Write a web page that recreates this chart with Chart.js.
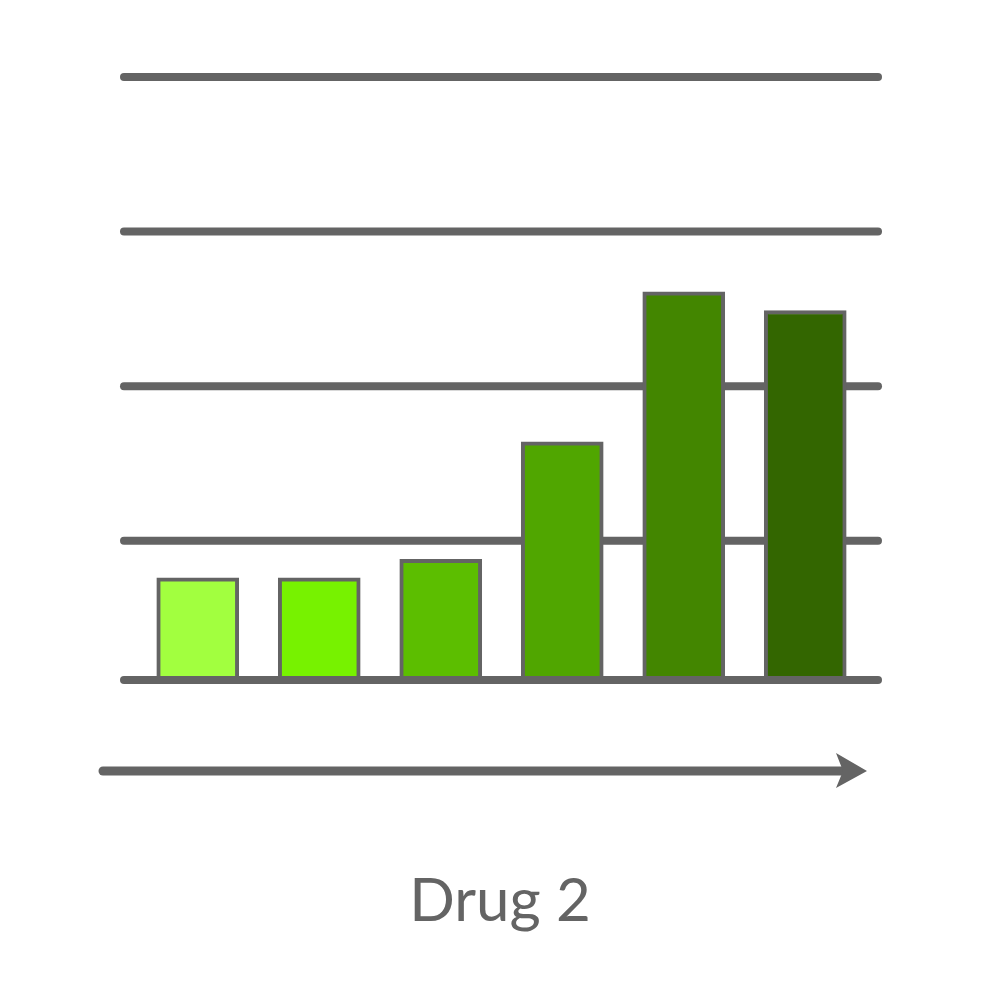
<!DOCTYPE html>
<html>
<head>
<meta charset="utf-8">
<script src="https://cdn.jsdelivr.net/npm/chart.js@4.4.1/dist/chart.umd.min.js"></script>
<style>
  html, body { margin: 0; padding: 0; background: #ffffff; }
  #wrap { width: 1000px; height: 1000px; position: relative; }
</style>
</head>
<body>
<div id="wrap"><canvas id="chart"></canvas></div>
<script>
"use strict";

// data (y in grid units)
const categories = ["1", "2", "3", "4", "5", "6"];
const barValues = [0.66, 0.66, 0.78, 1.54, 2.51, 2.39];
const barColors = ["#a2ff3f", "#77f200", "#5cbe00", "#50a600", "#438600", "#336600"];
const gridValues = [0, 0.9, 1.9, 2.9, 3.9];
const axisLabel = "Drug 2";

const GREY = "#646464";

// gridlines with round caps, baseline over the bars, arrow and label
const decorPlugin = {
    id: "decor",
    beforeDatasetsDraw(chart) {
        const ctx = chart.ctx;
        const y = chart.scales.y;
        ctx.save();
        ctx.strokeStyle = GREY;
        ctx.lineWidth = 8;
        ctx.lineCap = "round";
        gridValues.forEach(v => {
            if (v === 0) return;
            const py = y.getPixelForValue(v);
            ctx.beginPath();
            ctx.moveTo(124, py);
            ctx.lineTo(878, py);
            ctx.stroke();
        });
        ctx.restore();
    },
    afterDatasetsDraw(chart) {
        const ctx = chart.ctx;
        const y = chart.scales.y;
        ctx.save();
        ctx.strokeStyle = GREY;
        ctx.fillStyle = GREY;
        ctx.lineWidth = 8;
        ctx.lineCap = "round";
        // baseline
        const py0 = y.getPixelForValue(0);
        ctx.beginPath();
        ctx.moveTo(124, py0);
        ctx.lineTo(878, py0);
        ctx.stroke();
        // arrow
        const ay = 771;
        ctx.lineWidth = 9;
        ctx.beginPath();
        ctx.moveTo(103, ay);
        ctx.lineTo(845, ay);
        ctx.stroke();
        ctx.beginPath();
        ctx.moveTo(867, ay);
        ctx.lineTo(836, ay - 18);
        ctx.lineTo(843, ay);
        ctx.lineTo(836, ay + 17);
        ctx.closePath();
        ctx.fill();
        // label
        ctx.font = "60px Lato, 'Noto Sans', sans-serif";
        ctx.textAlign = "center";
        ctx.textBaseline = "alphabetic";
        ctx.fillText(axisLabel, 500, 921);
        ctx.restore();
    }
};

const canvas = document.getElementById("chart");
const chart = new Chart(canvas.getContext("2d"), {
    type: "bar",
    data: {
        labels: categories,
        datasets: [{
            data: barValues,
            backgroundColor: barColors,
            borderColor: GREY,
            borderWidth: 4,
            borderSkipped: false,
            barThickness: 82
        }]
    },
    options: {
        responsive: true,
        maintainAspectRatio: false,
        animation: false,
        layout: { padding: { left: 137, right: 134, top: 77, bottom: 320 } },
        plugins: {
            legend: { display: false },
            tooltip: { enabled: false },
            title: { display: false }
        },
        scales: {
            x: { display: false },
            y: { display: false, min: 0, max: 3.9 }
        }
    },
    plugins: [decorPlugin]
});
</script>
</body>
</html>
